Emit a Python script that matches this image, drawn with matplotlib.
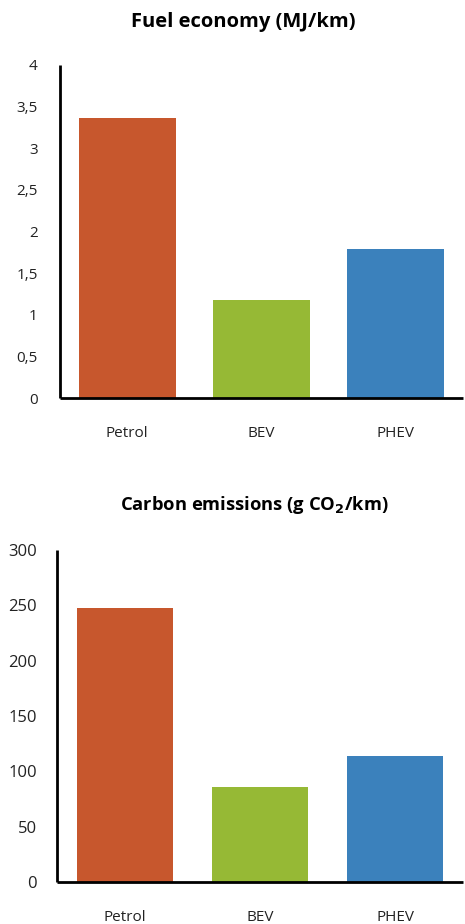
import matplotlib
matplotlib.use("Agg")
import matplotlib.pyplot as plt

plt.rcParams["font.family"] = ["Open Sans", "DejaVu Sans"]

categories = ["Petrol", "BEV", "PHEV"]
colors = ["#C7572D", "#96B935", "#3B81BC"]

# Fuel economy (MJ/km)
fuel_values = [3.36, 1.18, 1.79]
fuel_ticks = [0, 0.5, 1, 1.5, 2, 2.5, 3, 3.5, 4]
fuel_tick_labels = ["0", "0,5", "1", "1,5", "2", "2,5", "3", "3,5", "4"]

# Carbon emissions (g CO2/km)
carbon_values = [248, 85.5, 113.5]
carbon_ticks = [0, 50, 100, 150, 200, 250, 300]
carbon_tick_labels = ["0", "50", "100", "150", "200", "250", "300"]

W, H = 465, 924
fig = plt.figure(figsize=(W / 100, H / 100), dpi=100)


def px_axes(left, right, top, bottom):
    return fig.add_axes([left / W, 1 - bottom / H, (right - left) / W, (bottom - top) / H])


def style(ax, ticks, labels, ypad, ysize):
    x = range(len(categories))
    ax.set_xlim(-0.5, len(categories) - 0.5)
    ax.set_xticks(list(x))
    ax.set_xticklabels(categories, fontsize=11, color="#222222")
    ax.set_yticks(ticks)
    ax.set_yticklabels(labels, fontsize=ysize, color="#222222")
    ax.set_ylim(ticks[0], ticks[-1])
    ax.tick_params(axis="both", length=0)
    ax.tick_params(axis="x", pad=20)
    ax.tick_params(axis="y", pad=ypad)
    for s in ["top", "right"]:
        ax.spines[s].set_visible(False)
    for s in ["left", "bottom"]:
        ax.spines[s].set_linewidth(2)
        ax.spines[s].set_color("black")
        ax.spines[s].set_capstyle("butt")


ax1 = px_axes(60, 463, 65, 398)
ax1.bar(range(len(categories)), fuel_values, width=0.72, color=colors)
style(ax1, fuel_ticks, fuel_tick_labels, 16, 11)
fig.text(243 / W, 1 - 22 / H, "Fuel economy (MJ/km)", ha="center", va="center",
         fontsize=14.5, fontweight="bold")

ax2 = px_axes(57, 463, 550, 882)
ax2.bar(range(len(categories)), carbon_values, width=0.71, color=colors)
style(ax2, carbon_ticks, carbon_tick_labels, 14.5, 12)
fig.text(254 / W, 1 - 505 / H, "Carbon emissions (g CO$_\\mathbf{2}$/km)", ha="center",
         va="center", fontsize=13.2, fontweight="bold")

fig.savefig("out.png", dpi=100)
